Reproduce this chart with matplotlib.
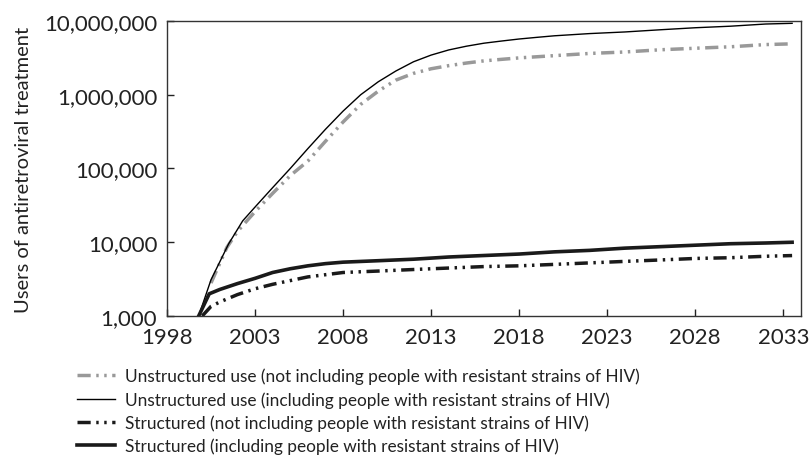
import matplotlib
matplotlib.use("Agg")
import matplotlib.pyplot as plt
from matplotlib.ticker import FuncFormatter, FixedLocator, NullLocator

# (log scale)
yrs_unstr_incl = [1999.8, 2000.5, 2001.5, 2002.3, 2003, 2004, 2005, 2006, 2007, 2008, 2009, 2010,
                  2011, 2012, 2013, 2014, 2015, 2016, 2017, 2018, 2019, 2020, 2022, 2024, 2026,
                  2028, 2030, 2032, 2033.5]
unstr_incl = [1000, 3100, 9500, 19500, 30000, 55000, 100000, 186000, 340000, 600000, 1000000,
              1500000, 2100000, 2800000, 3450000, 4050000, 4550000, 5000000, 5350000, 5700000,
              6000000, 6300000, 6750000, 7100000, 7600000, 8100000, 8500000, 9100000, 9300000]

yrs_unstr_excl = [2000.5, 2001.4, 2002, 2003, 2004, 2005, 2006, 2007, 2008, 2009, 2010, 2011,
                  2012, 2013, 2014, 2015, 2016, 2017, 2018, 2020, 2022, 2024, 2026, 2028, 2030,
                  2032, 2033.5]
unstr_excl = [2800, 8500, 14000, 26000, 46000, 80000, 126000, 234000, 427000, 740000, 1120000,
              1580000, 1950000, 2250000, 2480000, 2690000, 2880000, 3020000, 3160000, 3390000,
              3630000, 3800000, 4070000, 4270000, 4470000, 4790000, 4900000]

yrs_str_incl = [1999.8, 2000.4, 2001, 2002, 2003, 2004, 2005, 2006, 2007, 2008, 2010, 2012,
                2014, 2016, 2018, 2020, 2022, 2024, 2026, 2028, 2030, 2032, 2033.5]
str_incl = [1000, 2000, 2290, 2750, 3240, 3890, 4370, 4790, 5130, 5370, 5620, 5890, 6310, 6610,
            6920, 7410, 7760, 8320, 8710, 9120, 9550, 9770, 10000]

yrs_str_excl = [2000.0, 2000.5, 2001, 2002, 2003, 2004, 2005, 2006, 2007, 2008, 2010, 2012,
                2014, 2016, 2018, 2020, 2022, 2024, 2026, 2028, 2030, 2032, 2033.5]
str_excl = [1000, 1350, 1550, 1950, 2340, 2690, 3020, 3390, 3630, 3890, 4070, 4270, 4470, 4680,
            4790, 5010, 5250, 5500, 5750, 6030, 6170, 6460, 6600]

labels = [
    "Unstructured use (not including people with resistant strains of HIV)",
    "Unstructured use (including people with resistant strains of HIV)",
    "Structured (not including people with resistant strains of HIV)",
    "Structured (including people with resistant strains of HIV)",
]
x_ticks = [1998, 2003, 2008, 2013, 2018, 2023, 2028, 2033]
y_ticks = [1000, 10000, 100000, 1000000, 10000000]

plt.rcParams['font.family'] = ['Lato', 'DejaVu Sans']

fig = plt.figure(figsize=(8.09, 4.64), dpi=100)
ax = fig.add_axes([0.2064, 0.3168, 0.7836, 0.6358])

dd = (3.8, 1.6, 0.7, 1.6, 0.7, 1.6)
l1, = ax.plot(yrs_unstr_excl, unstr_excl, color='#999999', lw=2.5, dashes=dd)
l2, = ax.plot(yrs_unstr_incl, unstr_incl, color='black', lw=1.0)
l3, = ax.plot(yrs_str_excl, str_excl, color='#1a1a1a', lw=2.5, dashes=dd)
l4, = ax.plot(yrs_str_incl, str_incl, color='#1a1a1a', lw=2.6)

ax.set_yscale('log')
ax.set_xlim(1998, 2034)
ax.set_ylim(1000, 10000000)
ax.yaxis.set_major_locator(FixedLocator(y_ticks))
ax.yaxis.set_minor_locator(NullLocator())
ax.yaxis.set_major_formatter(FuncFormatter(lambda v, p: f"{int(round(v)):,}"))
ax.set_xticks(x_ticks)
ax.tick_params(direction='in', length=5, width=1, labelsize=16, colors='#222222')
ax.tick_params(axis='x', pad=8)
ax.tick_params(axis='y', pad=7)
for s in ax.spines.values():
    s.set_linewidth(1.0)
    s.set_color('#333333')
ax.set_ylabel("Users of antiretroviral treatment", fontsize=14.5, color='#222222', labelpad=9)

fig.legend([l1, l2, l3, l4], labels, loc='upper left', bbox_to_anchor=(0.095, 0.205),
           frameon=False, fontsize=12.4, handlelength=2.2, handletextpad=0.6,
           labelspacing=0.38, borderaxespad=0, borderpad=0, labelcolor='#222222')

fig.savefig("out.png", dpi=100)
